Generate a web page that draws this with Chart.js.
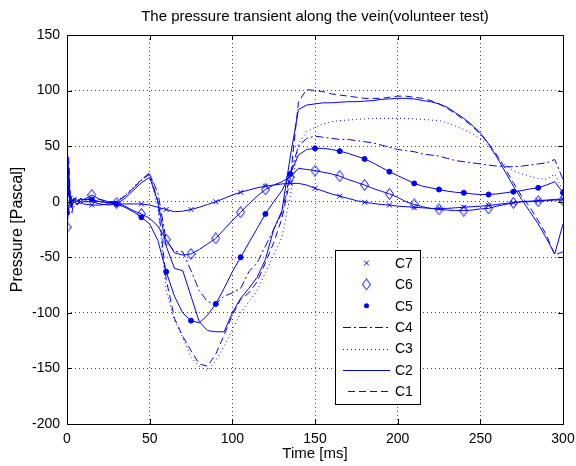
<!DOCTYPE html>
<html>
<head>
<meta charset="utf-8">
<script src="https://cdn.jsdelivr.net/npm/chart.js@4.4.1/dist/chart.umd.min.js"></script>
<style>
  body { margin: 0; background: #ffffff; }
  #grafico { display: block; }
</style>
</head>
<body>
<canvas id="grafico" width="576" height="466"></canvas>
<script>
// tempo em ms (amostras)
var tempos = [0, 1, 2, 3, 4, 6, 8, 10,
  15, 20, 25, 30, 35, 40, 45, 50, 55, 60, 65, 70, 75, 80, 85, 90, 95, 100,
  105, 110, 115, 120, 125, 130, 135, 140, 145, 150, 155, 160, 165, 170, 175, 180, 185, 190, 195, 200,
  205, 210, 215, 220, 225, 230, 235, 240, 245, 250, 255, 260, 265, 270, 275, 280, 285, 290, 295, 300];

var c1 = [10, 40, 5, -10, 0, 5, 0, 2,
  3, 2, 0, 0, 5, 12, 20, 26, 0, -70, -105, -121, -134, -146, -148, -137, -120, -102,
  -88, -82, -72, -55, -37, -15, 20, 90, 101, 100, 99, 97, 96, 95, 94, 93, 93, 93, 94, 95,
  95, 94, 93, 91, 88, 84, 79, 74, 68, 61, 52, 42, 30, 17, 5, -5, -17, -30, -48, -45];

var c2 = [55, 20, -5, 0, 3, 2, -2, 0,
  0, -2, -3, -2, 3, 10, 17, 22, 0, -40, -60, -62, -85, -108, -116, -117, -117, -100,
  -87, -78, -68, -52, -25, -8, 40, 83, 87, 88, 89, 89, 89.5, 90, 90, 90.5, 91, 92, 92.5, 93,
  93, 92.5, 91, 90, 88, 85, 80, 75, 69, 62, 52, 40, 27, 14, 2, -9, -20, -33, -47, -20];

var c3 = [0, -10, 5, 0, -5, 0, 2, 0,
  1, 0, 0, 0, 6, 13, 20, 25, -5, -80, -107, -122, -140, -148, -152, -143, -130, -115,
  -100, -90, -80, -64, -48, -32, 5, 52, 63, 67, 70, 72, 73, 73.5, 74, 74.5, 75, 75, 75, 75,
  75, 74.5, 74, 73.5, 73, 71, 68, 65, 61, 57, 50, 40, 33, 28, 25, 23, 21, 20, 25, 10];

var c4 = [-10, 10, 0, 5, 0, -3, 0, 1,
  0, 0, -1, 0, 5, 12, 19, 25, 8, -35, -45, -45, -62, -80, -90, -92, -85, -82,
  -78, -63, -55, -40, -25, -10, 25, 50, 57, 59, 58, 57, 56, 56, 55, 54, 53, 51, 49, 47,
  46, 45, 43, 42, 41, 39, 37, 36, 35, 34, 33, 32, 31.5, 31.5, 32, 33, 34, 35, 38, 20];

var c5 = [-10, 30, 0, -5, 2, 0, 3, 2,
  2, 0, -1, -2, -5, -9, -14, -20, -35, -63, -85, -100, -107, -109, -102, -92, -78, -63,
  -50, -37, -24, -11, 0, 10, 25, 42, 47, 48, 48, 47, 45.5, 43.5, 41, 38.5, 35, 31, 27, 23.5,
  20, 16.5, 14, 12.5, 11, 9.5, 8.5, 8, 7, 6.5, 6.5, 7, 8, 9, 10, 11.5, 12.5, 15, 18, 8];

var c6 = [-23, -5, 5, 0, 3, 0, 2, 2,
  6, 2, 0, -1, -4, -8, -11, -15, -22, -34, -46, -48, -47, -43, -38, -33, -25, -17,
  -9.5, -2, 5, 11, 15, 18, 22, 30, 29, 28, 26.5, 25, 23, 20, 17.5, 15, 12, 9.5, 7, 4,
  0, -2.5, -4.5, -6, -7, -7.5, -8, -8, -7.5, -6.5, -6, -4, -2.5, -1, 0, 0, 0.5, 1, 1.5, 1.5];

var c7 = [-5, 15, 0, -3, 0, -2, 0, -2,
  -3, -3, -2, -2, -2, -2, -2, -3, -5, -7, -9, -8.5, -7, -5, -2.5, 0, 3, 6,
  8.5, 10.5, 12.5, 14, 15, 16, 16.5, 16.5, 15, 12, 9.5, 7, 5, 3, 1, -0.5, -1.5, -2.5, -3, -4,
  -4.5, -5, -5.5, -6, -6, -6, -5.5, -5, -4.5, -4, -3.5, -2.5, -1.5, -1, 0, 0.5, 1, 1.5, 2, 2.5];

var ticksX = [0, 50, 100, 150, 200, 250, 300];
var ticksY = [-200, -150, -100, -50, 0, 50, 100, 150];
var nomes = ['C1', 'C2', 'C3', 'C4', 'C5', 'C6', 'C7'];
var titulo = 'The pressure transient along the vein(volunteer test)';

var azul = 'rgb(0,0,255)';
var fonte = '"Liberation Sans", Arial, sans-serif';

function pontos(valores) {
  return tempos.map(function (t, i) { return { x: t, y: valores[i] }; });
}

// losango do matlab (mais alto que largo)
function criarLosango() {
  var c = document.createElement('canvas');
  c.width = 9; c.height = 12;
  var g = c.getContext('2d');
  g.strokeStyle = azul; g.lineWidth = 1;
  g.beginPath();
  g.moveTo(4.5, 0.5); g.lineTo(8.5, 6); g.lineTo(4.5, 11.5); g.lineTo(0.5, 6);
  g.closePath(); g.stroke();
  return c;
}
var losango = criarLosango();

// marcador so a cada 15 ms
function raioMarcador(r) {
  return function (ctx) {
    var p = ctx.raw;
    return (p && p.x % 15 === 0) ? r : 0;
  };
}

var estilos = {
  C1: { dash: [7, 4] },
  C2: { dash: [] },
  C3: { dash: [1, 3] },
  C4: { dash: [8, 3, 2, 3] },
  C5: { dash: [], marker: 'circle', raio: 2.5 },
  C6: { dash: [], marker: losango, raio: 5 },
  C7: { dash: [], marker: 'crossRot', raio: 3.5 }
};

var series = [c1, c2, c3, c4, c5, c6, c7];
var datasets = series.map(function (s, i) {
  var e = estilos[nomes[i]];
  return {
    label: nomes[i],
    data: pontos(s),
    borderColor: azul,
    backgroundColor: azul,
    borderWidth: 1,
    borderDash: e.dash,
    pointStyle: e.marker || 'circle',
    pointRadius: e.marker ? raioMarcador(e.raio) : 0,
    pointBorderColor: azul,
    pointBackgroundColor: e.marker === 'circle' ? azul : 'rgba(0,0,0,0)',
    pointBorderWidth: 1,
    pointHoverRadius: 0,
    fill: false,
    tension: 0
  };
});

// titulo, caixa, tracinhos e legenda no estilo matlab
var moldura = {
  id: 'moldura',
  afterDraw: function (chart) {
    var ctx = chart.ctx;
    var a = chart.chartArea;
    var sx = chart.scales.x, sy = chart.scales.y;
    ctx.save();

    ctx.fillStyle = '#000';
    ctx.font = '15px ' + fonte;
    ctx.textAlign = 'center';
    ctx.textBaseline = 'middle';
    ctx.fillText(titulo, (a.left + a.right) / 2, 17);

    ctx.strokeStyle = '#000';
    ctx.lineWidth = 1;
    ctx.setLineDash([]);
    ctx.strokeRect(Math.round(a.left) + 0.5, Math.round(a.top) + 0.5,
      Math.round(a.right - a.left), Math.round(a.bottom - a.top));
    ctx.beginPath();
    ticksX.forEach(function (v) {
      var x = Math.round(sx.getPixelForValue(v)) + 0.5;
      ctx.moveTo(x, a.bottom); ctx.lineTo(x, a.bottom - 5);
      ctx.moveTo(x, a.top); ctx.lineTo(x, a.top + 5);
    });
    ticksY.forEach(function (v) {
      var y = Math.round(sy.getPixelForValue(v)) + 0.5;
      ctx.moveTo(a.left, y); ctx.lineTo(a.left + 5, y);
      ctx.moveTo(a.right, y); ctx.lineTo(a.right - 5, y);
    });
    ctx.stroke();

    // legenda
    var lx = 335.5, ly = 250.5, lw = 85, lh = 154;
    ctx.fillStyle = '#fff';
    ctx.fillRect(lx, ly, lw, lh);
    ctx.strokeRect(lx, ly, lw, lh);
    var ordem = ['C7', 'C6', 'C5', 'C4', 'C3', 'C2', 'C1'];
    ctx.font = '14px ' + fonte;
    ctx.textBaseline = 'middle';
    ordem.forEach(function (n, i) {
      var y = 263 + i * 21.4;
      var e = estilos[n];
      ctx.strokeStyle = azul;
      ctx.fillStyle = azul;
      if (n === 'C7') {
        ctx.beginPath();
        ctx.moveTo(364, y - 2.5); ctx.lineTo(369, y + 2.5);
        ctx.moveTo(369, y - 2.5); ctx.lineTo(364, y + 2.5);
        ctx.stroke();
      } else if (n === 'C6') {
        ctx.drawImage(losango, 366.5 - 4.5, y - 6);
      } else if (n === 'C5') {
        ctx.beginPath(); ctx.arc(366.5, y, 2.5, 0, Math.PI * 2); ctx.fill();
      } else {
        ctx.setLineDash(e.dash);
        ctx.beginPath();
        ctx.moveTo(n === 'C1' ? 348 : 343, Math.round(y) + 0.5);
        ctx.lineTo(390, Math.round(y) + 0.5);
        ctx.stroke();
        ctx.setLineDash([]);
      }
      ctx.fillStyle = '#000';
      ctx.textAlign = 'left';
      ctx.fillText(n, 395, y + 1);
    });
    ctx.restore();
  }
};

new Chart(document.getElementById('grafico'), {
  type: 'line',
  data: { datasets: datasets },
  options: {
    responsive: false,
    animation: false,
    events: [],
    layout: { padding: { left: 0, right: 13, top: 35, bottom: 0 } },
    plugins: {
      legend: { display: false },
      tooltip: { enabled: false },
      title: { display: false }
    },
    scales: {
      x: {
        type: 'linear',
        min: 0,
        max: 300,
        afterFit: function (s) { s.height = 42; s.paddingLeft = 0; s.paddingRight = 0; },
        afterBuildTicks: function (s) { s.ticks = ticksX.map(function (v) { return { value: v }; }); },
        ticks: { color: '#000', padding: 7, maxRotation: 0, font: { family: fonte, size: 14 } },
        grid: { color: 'rgba(0,0,0,0.75)', lineWidth: 1, drawTicks: false },
        border: { display: false, dash: [1, 3] },
        title: {
          display: true, text: 'Time [ms]', color: '#000',
          font: { family: fonte, size: 15 }, padding: { top: 0, bottom: 3 }
        }
      },
      y: {
        min: -200,
        max: 150,
        afterFit: function (s) { s.width = 67; s.paddingTop = 0; s.paddingBottom = 0; },
        afterBuildTicks: function (s) { s.ticks = ticksY.map(function (v) { return { value: v }; }); },
        ticks: { color: '#000', padding: 7, font: { family: fonte, size: 14 } },
        grid: { color: 'rgba(0,0,0,0.75)', lineWidth: 1, drawTicks: false },
        border: { display: false, dash: [1, 3] },
        title: {
          display: true, text: 'Pressure [Pascal]', color: '#000',
          font: { family: fonte, size: 16 }, padding: { top: 8, bottom: 0 }
        }
      }
    }
  },
  plugins: [moldura]
});
</script>
</body>
</html>
